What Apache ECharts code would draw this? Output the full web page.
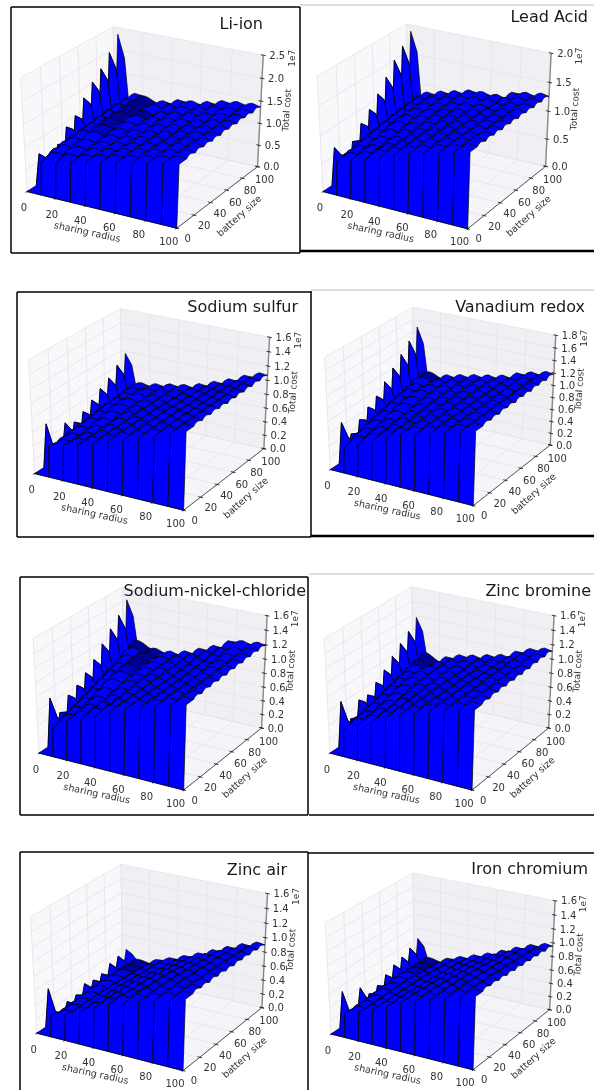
<!DOCTYPE html>
<html><head><meta charset="utf-8">
<style>html,body{margin:0;padding:0;background:#fff}#c{width:594px;height:1090px;filter:blur(0.55px)}</style>
<script src="https://cdn.jsdelivr.net/npm/echarts@6/dist/echarts.min.js"></script>
</head><body><div id="c"></div>
<script>
// ---------- axis values ----------
const xTicks = [0, 20, 40, 60, 80, 100];
const yTicks = [0, 20, 40, 60, 80, 100];
const xNodes = [0, 10, 20, 30, 40, 50, 60, 70, 80, 90, 100];
const yNodes = [0, 10, 20, 30, 40, 50, 60, 70, 80, 90, 100];
const liIonZTicks = [0, 0.5, 1.0, 1.5, 2.0, 2.5];
const leadAcidZTicks = [0, 0.5, 1.0, 1.5, 2.0];
const vanadiumZTicks = [0, 0.2, 0.4, 0.6, 0.8, 1.0, 1.2, 1.4, 1.6, 1.8];
const commonZTicks = [0, 0.2, 0.4, 0.6, 0.8, 1.0, 1.2, 1.4, 1.6];

// ---------- series values (1e7), rows y=10..100, columns x=10..100 ----------
const liIonWall = [.72,.76,.85,.95,1.02,1.10,1.17,1.24,1.31,1.38];
const liIonTip = [.75,.60,.70,.97,1.10,1.38,1.62,1.80,2.05,2.35];
const liIonMid = [.70,.58,.74,.95,1.06,1.28,1.45,1.58,1.72,1.85];
const liIonGrid = [
[.80,.85,.88,.96,1.03,1.10,1.17,1.24,1.31,1.38],
[.82,.88,.90,.96,1.03,1.10,1.17,1.24,1.31,1.38],
[.85,.92,.92,.97,1.03,1.10,1.17,1.25,1.31,1.38],
[.86,.98,.95,.98,1.04,1.10,1.17,1.25,1.31,1.37],
[.88,1.02,.98,1.00,1.05,1.10,1.17,1.25,1.30,1.37],
[.90,1.05,1.00,1.02,1.07,1.12,1.18,1.25,1.31,1.38],
[.92,1.05,1.02,1.02,1.09,1.14,1.18,1.25,1.32,1.37],
[.94,1.08,1.02,1.00,1.10,1.14,1.20,1.28,1.32,1.38],
[.95,1.06,1.00,1.04,1.12,1.12,1.22,1.30,1.33,1.36],
[.96,1.07,.97,1.02,1.13,1.14,1.22,1.31,1.34,1.37]];

const leadAcidWall = [.58,.66,.74,.84,.94,1.02,1.09,1.16,1.23,1.30];
const leadAcidTip = [.70,.48,.60,.82,.97,1.15,1.35,1.56,1.72,1.89];
const leadAcidMid = [.60,.52,.64,.80,.92,1.07,1.20,1.34,1.44,1.55];
const leadAcidGrid = [
[.60,.68,.76,.85,.95,1.03,1.10,1.17,1.24,1.30],
[.62,.70,.76,.86,.95,1.03,1.10,1.17,1.24,1.29],
[.65,.74,.80,.86,.95,1.03,1.10,1.17,1.23,1.29],
[.68,.78,.82,.88,.96,1.03,1.10,1.16,1.23,1.28],
[.70,.82,.85,.90,.97,1.04,1.10,1.17,1.23,1.28],
[.72,.84,.87,.92,.99,1.04,1.10,1.17,1.22,1.27],
[.74,.85,.89,.94,1.00,1.05,1.10,1.17,1.22,1.27],
[.76,.86,.90,.95,1.02,1.05,1.08,1.18,1.23,1.26],
[.77,.86,.91,.97,1.04,1.06,1.07,1.19,1.22,1.26],
[.78,.85,.92,.98,1.05,1.05,1.06,1.19,1.21,1.26]];

const sodiumSulfurWall = [.45,.50,.56,.63,.70,.77,.84,.92,1.00,1.08];
const sodiumSulfurTip = [.65,.27,.50,.43,.50,.59,.68,.76,.87,.97];
const sodiumSulfurMid = [.34,.30,.42,.43,.48,.55,.62,.68,.76,.82];
const sodiumSulfurGrid = [
[.42,.48,.55,.62,.70,.77,.84,.92,1.00,1.08],
[.43,.48,.55,.62,.70,.77,.84,.92,1.00,1.08],
[.45,.50,.56,.62,.70,.77,.84,.92,1.00,1.08],
[.46,.54,.57,.63,.70,.77,.84,.92,1.00,1.08],
[.48,.57,.58,.64,.70,.77,.84,.91,.99,1.07],
[.50,.60,.60,.64,.70,.76,.83,.91,.99,1.07],
[.51,.60,.60,.64,.69,.76,.83,.91,.99,1.07],
[.52,.59,.60,.64,.68,.75,.83,.90,1.00,1.07],
[.54,.58,.60,.64,.68,.74,.82,.90,1.00,1.07],
[.55,.56,.60,.64,.67,.74,.82,.90,1.00,1.07]];

const vanadiumWall = [.41,.52,.62,.72,.84,.90,.96,1.03,1.10,1.17];
const vanadiumTip = [.70,.42,.56,.68,.77,.92,1.06,1.20,1.34,1.49];
const vanadiumMid = [.48,.45,.58,.66,.74,.84,.96,1.06,1.15,1.24];
const vanadiumGrid = [
[.46,.55,.64,.74,.84,.90,.97,1.04,1.10,1.17],
[.50,.58,.65,.74,.84,.90,.97,1.04,1.10,1.17],
[.54,.62,.68,.75,.84,.90,.97,1.04,1.10,1.17],
[.58,.68,.70,.77,.85,.91,.97,1.04,1.10,1.18],
[.62,.72,.73,.79,.86,.91,.97,1.04,1.11,1.17],
[.66,.74,.75,.80,.86,.92,.97,1.05,1.10,1.18],
[.69,.76,.77,.81,.87,.92,.97,1.05,1.11,1.17],
[.72,.75,.78,.82,.88,.93,.97,1.06,1.11,1.18],
[.76,.74,.78,.83,.88,.93,.97,1.06,1.12,1.17],
[.78,.72,.78,.83,.88,.92,.97,1.07,1.12,1.18]];

const sodiumNickelWall = [.40,.54,.63,.72,.82,.90,.97,1.04,1.10,1.16];
const sodiumNickelTip = [.72,.43,.60,.66,.76,.87,1.02,1.16,1.28,1.43];
const sodiumNickelMid = [.48,.46,.58,.64,.72,.82,.94,1.04,1.12,1.22];
const sodiumNickelGrid = [
[.44,.56,.64,.73,.82,.90,.97,1.04,1.10,1.16],
[.48,.58,.65,.73,.82,.90,.97,1.04,1.10,1.16],
[.52,.62,.67,.74,.82,.90,.97,1.04,1.11,1.17],
[.56,.68,.70,.76,.83,.90,.97,1.04,1.11,1.17],
[.61,.73,.73,.78,.84,.90,.97,1.05,1.11,1.17],
[.66,.77,.75,.79,.84,.90,.98,1.06,1.12,1.18],
[.71,.80,.77,.80,.85,.90,.99,1.08,1.13,1.18],
[.77,.82,.78,.80,.85,.92,1.00,1.10,1.14,1.19],
[.83,.82,.78,.80,.86,.94,1.02,1.12,1.15,1.19],
[.88,.80,.78,.80,.86,.95,1.03,1.15,1.16,1.19]];

const zincBromineWall = [.37,.48,.58,.68,.78,.85,.92,.98,1.04,1.09];
const zincBromineTip = [.67,.34,.53,.52,.62,.72,.84,.95,1.05,1.18];
const zincBromineMid = [.42,.38,.52,.52,.60,.68,.77,.86,.93,1.00];
const zincBromineGrid = [
[.40,.50,.59,.69,.78,.85,.92,.98,1.04,1.09],
[.43,.52,.60,.69,.78,.85,.92,.98,1.04,1.09],
[.46,.55,.62,.70,.78,.85,.92,.98,1.04,1.10],
[.49,.59,.64,.71,.79,.85,.92,.98,1.04,1.10],
[.53,.63,.67,.73,.79,.85,.92,.98,1.05,1.10],
[.56,.66,.69,.74,.79,.85,.91,.99,1.05,1.10],
[.60,.67,.70,.75,.79,.85,.90,.99,1.05,1.10],
[.64,.66,.70,.75,.79,.85,.90,1.00,1.06,1.11],
[.67,.63,.70,.76,.79,.85,.89,1.00,1.06,1.11],
[.70,.60,.70,.76,.79,.85,.89,1.00,1.07,1.11]];

const zincAirWall = [.30,.36,.44,.55,.65,.71,.78,.84,.90,.96];
const zincAirTip = [.56,.14,.21,.22,.30,.27,.28,.35,.38,.40];
const zincAirMid = [.26,.16,.20,.24,.27,.27,.28,.31,.33,.35];
const zincAirGrid = [
[.26,.32,.42,.54,.64,.71,.77,.84,.90,.96],
[.26,.32,.42,.54,.63,.71,.77,.84,.90,.96],
[.27,.32,.42,.53,.62,.70,.77,.84,.90,.95],
[.28,.32,.42,.52,.61,.69,.76,.83,.89,.95],
[.29,.32,.41,.50,.60,.68,.75,.82,.89,.94],
[.29,.31,.40,.48,.58,.66,.73,.81,.88,.93],
[.29,.30,.39,.46,.56,.64,.72,.80,.87,.93],
[.29,.29,.38,.44,.54,.62,.71,.79,.86,.92],
[.29,.28,.37,.42,.52,.60,.69,.78,.85,.91],
[.29,.27,.36,.42,.50,.58,.67,.76,.84,.90]];

const ironChromiumWall = [.36,.42,.50,.60,.70,.77,.83,.90,.97,1.03];
const ironChromiumTip = [.56,.20,.45,.28,.32,.40,.47,.51,.57,.64];
const ironChromiumMid = [.30,.22,.32,.29,.33,.38,.43,.46,.50,.54];
const ironChromiumGrid = [
[.34,.40,.48,.58,.69,.76,.83,.90,.97,1.03],
[.34,.40,.48,.58,.68,.76,.83,.90,.97,1.03],
[.35,.40,.48,.57,.67,.75,.82,.90,.96,1.02],
[.36,.41,.48,.56,.66,.74,.82,.89,.96,1.01],
[.37,.41,.48,.55,.65,.73,.81,.88,.95,1.00],
[.38,.41,.48,.54,.63,.71,.80,.87,.94,.99],
[.38,.40,.47,.53,.61,.70,.78,.86,.93,.98],
[.38,.38,.46,.52,.60,.68,.76,.85,.92,.97],
[.38,.37,.45,.51,.58,.66,.75,.84,.91,.96],
[.38,.35,.44,.50,.57,.64,.73,.82,.90,.95]];

// ---------- layout and style ----------
const panelLayout = [
 {title:'Li-ion', tx:144, ty:124, sx:173, sy:130, te:263, tc:25, grid:liIonGrid, wall:liIonWall, tip:liIonTip, mid:liIonMid, zt:liIonZTicks, zm:2.5},
 {title:'Lead Acid', tx:436, ty:123, sx:167, sy:132, te:588, tc:18, grid:leadAcidGrid, wall:leadAcidWall, tip:leadAcidTip, mid:leadAcidMid, zt:leadAcidZTicks, zm:2.0},
 {title:'Sodium sulfur', tx:151, ty:406, sx:172, sy:130, te:298, tc:308, grid:sodiumSulfurGrid, wall:sodiumSulfurWall, tip:sodiumSulfurTip, mid:sodiumSulfurMid, zt:commonZTicks, zm:1.6},
 {title:'Vanadium redox', tx:442, ty:403, sx:165, sy:128, te:585, tc:308, grid:vanadiumGrid, wall:vanadiumWall, tip:vanadiumTip, mid:vanadiumMid, zt:vanadiumZTicks, zm:1.8},
 {title:'Sodium-nickel-chloride', tx:152, ty:685, sx:167, sy:131, te:306, tc:592, grid:sodiumNickelGrid, wall:sodiumNickelWall, tip:sodiumNickelTip, mid:sodiumNickelMid, zt:commonZTicks, zm:1.6},
 {title:'Zinc bromine', tx:441, ty:685, sx:164, sy:131, te:591, tc:592, grid:zincBromineGrid, wall:zincBromineWall, tip:zincBromineTip, mid:zincBromineMid, zt:commonZTicks, zm:1.6},
 {title:'Zinc air', tx:151, ty:964, sx:169, sy:133, te:287, tc:871, grid:zincAirGrid, wall:zincAirWall, tip:zincAirTip, mid:zincAirMid, zt:commonZTicks, zm:1.6},
 {title:'Iron chromium', tx:442, ty:968, sx:164, sy:127, te:588, tc:870, grid:ironChromiumGrid, wall:ironChromiumWall, tip:ironChromiumTip, mid:ironChromiumMid, zt:commonZTicks, zm:1.6}
];
const frameLines = [
 [11,7,300,7,'#000',1.5],[11,7,11,253,'#000',1.5],[11,253,300,253,'#000',1.5],[300,7,300,253,'#000',1.5],
 [300,5,594,5,'#bbb',1],[300,251,594,251,'#000',2.5],
 [17,292,311,292,'#000',1.5],[17,292,17,537,'#000',1.5],[17,537,311,537,'#000',1.5],
 [311,291,311,537,'#000',1.5],[311,290,594,290,'#bbb',1],[311,536,594,536,'#000',2.5],
 [20,577,308,577,'#000',1.5],[20,577,20,815,'#000',1.5],[20,815,308,815,'#000',1.5],[308,577,308,815,'#000',1.5],
 [309,574,594,574,'#bbb',1],[309,815,594,815,'#000',1.5],
 [20,852,308,852,'#000',1.5],[20,852,20,1090,'#000',1.5],[308,852,308,1090,'#000',1.5],
 [308,853,594,853,'#000',1.5]
];
const spikeX = [3, 7.5];
const wallY = 1.5;
const rippleT = [0.2, 0.45, 0.8];
const rippleS = [0.35, 0.7, 0.9];
const rippleLift = [0.03, 0.042, 0.014];

// ---------- projection (elev 30, azim -60, perspective) ----------
const U=[.8660254,.5,0], V=[-.25,.4330127,.8660254], W=[.4330127,-.75,.5], D=10;
function project(x,y,z,zm){
  const c=[x/100-.5,y/100-.5,z/zm-.5];
  const dot=a=>a[0]*c[0]+a[1]*c[1]+a[2]*c[2];
  const d=D-dot(W);
  return {p:[D*dot(U)/d, D*dot(V)/d], d};
}
function nodeZ(p,c,r){ return (c===0||r===0)?0:p.grid[r-1][c-1]; }
function rippleAlong(p,a,b,fn){
  const out=[];
  rippleT.forEach((t,i)=>{
    const z=a+(b-a)*rippleS[i]+rippleLift[i]*p.zm*0.5*Math.min(1,(a+b)/p.zm*1.2);
    const q=fn(t); out.push([q[0],q[1],z]);
  });
  return out;
}
function edgeX(p,c,r){
  const x0=xNodes[c],x1=xNodes[c+1],y=yNodes[r];
  if(r===0) return [[x0,y,0],[x1,y,0]];
  if(c===0) return [[0,y,0],[spikeX[0],y,p.tip[r-1]],[spikeX[1],y,p.mid[r-1]],[x1,y,nodeZ(p,1,r)]];
  const a=nodeZ(p,c,r),b=nodeZ(p,c+1,r);
  return [[x0,y,a],...rippleAlong(p,a,b,t=>[x0+(x1-x0)*t,y]),[x1,y,b]];
}
function edgeY(p,c,r){
  const y0=yNodes[r],y1=yNodes[r+1],x=xNodes[c];
  if(c===0) return [[x,y0,0],[x,y1,0]];
  if(r===0) return [[x,0,0],[x,wallY,p.wall[c-1]],[x,y1,nodeZ(p,c,1)]];
  const a=nodeZ(p,c,r),b=nodeZ(p,c,r+1);
  return [[x,y0,a],...rippleAlong(p,a,b,t=>[x,y0+(y1-y0)*t]),[x,y1,b]];
}
function shade(poly,zm){
  let n=[0,0,0];const k=10/zm*1.6;
  const P=poly.map(q=>[q[0]/100,q[1]/100,q[2]*k]);
  for(let i=0;i<P.length;i++){const a=P[i],b=P[(i+1)%P.length];
    n[0]+=(a[1]-b[1])*(a[2]+b[2]);n[1]+=(a[2]-b[2])*(a[0]+b[0]);n[2]+=(a[0]-b[0])*(a[1]+b[1]);}
  const L=Math.hypot(...n)||1;
  const d=(-n[0]-n[1]+n[2])/L/1.7320508;
  const b=Math.max(.6,Math.min(1,.68+.7*d));
  return 'rgb(0,0,'+Math.round(b*255)+')';
}
function buildItems(p){
  const zm=p.zm, P=(x,y,z)=>project(x,y,z,zm).p, items=[];
  const poly=(pts,fill,stroke,w)=>items.push({k:'poly',pts,fill,stroke,w});
  const line=(a,b,stroke,w)=>items.push({k:'line',a,b,stroke,w});
  const text=(at,dx,dy,t,fs,rot,col)=>items.push({k:'text',at,dx,dy,t,fs,rot:rot||0,col:col||'#333'});
  poly([P(0,0,0),P(0,100,0),P(0,100,zm),P(0,0,zm)],'#f8f7fa',null,0);
  poly([P(0,100,0),P(100,100,0),P(100,100,zm),P(0,100,zm)],'#f0f0f4',null,0);
  poly([P(0,0,0),P(100,0,0),P(100,100,0),P(0,100,0)],'#f5f5f9',null,0);
  const gc='#e3e3e8';
  xTicks.forEach(x=>{line(P(x,100,0),P(x,100,zm),gc,.8);line(P(x,0,0),P(x,100,0),gc,.8);});
  yTicks.forEach(y=>{line(P(0,y,0),P(0,y,zm),gc,.8);line(P(0,y,0),P(100,y,0),gc,.8);});
  p.zt.forEach(z=>{line(P(0,0,z),P(0,100,z),gc,.8);line(P(0,100,z),P(100,100,z),gc,.8);});
  const ac='#555';
  line(P(0,0,0),P(100,0,0),ac,1);line(P(100,0,0),P(100,100,0),ac,1);line(P(100,100,0),P(100,100,zm),'#888',1.4);
  xTicks.forEach(x=>{line(P(x,-1.5,0),P(x,1.5,0),'#222',.9);text(P(x,0,0),-3-.05*x,17-.03*x,String(x),10);});
  yTicks.forEach(y=>{line(P(98.5,y,0),P(101.5,y,0),'#222',.9);text(P(100,y,0),11-.04*y,11+.03*y,String(y),10);});
  p.zt.forEach(z=>{line(P(98.5,100,z),P(101.5,100,z),'#222',.9);text(P(100,100,z),14,1,z.toFixed(1),10);});
  const cells=[];
  for(let r=0;r<yNodes.length-1;r++)for(let c=0;c<xNodes.length-1;c++){
    const ring=[...edgeX(p,c,r),
      ...edgeY(p,c+1,r).slice(1),
      ...edgeX(p,c,r+1).reverse().slice(1),
      ...edgeY(p,c,r).reverse().slice(1,-1)];
    const zc=[nodeZ(p,c,r),nodeZ(p,c+1,r),nodeZ(p,c,r+1),nodeZ(p,c+1,r+1)].reduce((a,b)=>a+b)/4;
    const depth=project((xNodes[c]+xNodes[c+1])/2,(yNodes[r]+yNodes[r+1])/2,zc,zm).d;
    cells.push({ring,depth});
  }
  cells.sort((a,b)=>b.depth-a.depth);
  cells.forEach(o=>poly(o.ring.map(q=>P(q[0],q[1],q[2])),shade(o.ring,zm),'#000',.7));
  text(P(50,0,0),-13,23,'sharing radius',9.5,-12*Math.PI/180);
  text(P(100,50,0),21,20,'battery size',9.5,42*Math.PI/180);
  text(P(100,100,zm/2),27,-2,'Total cost',9,86*Math.PI/180);
  text(P(100,100,zm),29,3,'1e7',9,Math.PI/2);
  return items;
}
function renderer(items){
  return function(params,api){
    const it=items[params.dataIndex];
    if(it.k==='poly') return {type:'polygon',shape:{points:it.pts.map(q=>api.coord(q))},
      style:{fill:it.fill,stroke:it.stroke||'none',lineWidth:it.w,lineJoin:'round'}};
    if(it.k==='line'){const a=api.coord(it.a),b=api.coord(it.b);
      return {type:'line',shape:{x1:a[0],y1:a[1],x2:b[0],y2:b[1]},style:{stroke:it.stroke,lineWidth:it.w}};}
    const a=api.coord(it.at);
    return {type:'text',x:a[0]+it.dx,y:a[1]+it.dy,rotation:it.rot,
      style:{text:it.t,fontFamily:'DejaVu Sans',fontSize:it.fs,fill:it.col,align:'center',verticalAlign:'middle'}};
  };
}
const xHalf=.8,yHalf=.9;
const option={animation:false,backgroundColor:'#fff',grid:[],xAxis:[],yAxis:[],series:[],
 title:panelLayout.map(p=>({text:p.title,right:594-p.te,top:p.tc-10,padding:0,
   textStyle:{fontFamily:'DejaVu Sans',fontSize:16,fontWeight:'normal',color:'#1a1a1a',lineHeight:20}})),
 graphic:frameLines.map(l=>({type:'line',silent:true,z:50,shape:{x1:l[0],y1:l[1],x2:l[2],y2:l[3]},style:{stroke:l[4],lineWidth:l[5]}}))};
panelLayout.forEach((p,i)=>{
  option.grid.push({left:p.tx-xHalf*p.sx,top:p.ty-yHalf*p.sy,width:2*xHalf*p.sx,height:2*yHalf*p.sy,show:false});
  option.xAxis.push({type:'value',gridIndex:i,min:-xHalf,max:xHalf,show:false});
  option.yAxis.push({type:'value',gridIndex:i,min:-yHalf,max:yHalf,show:false});
  const items=buildItems(p);
  option.series.push({type:'custom',coordinateSystem:'cartesian2d',xAxisIndex:i,yAxisIndex:i,silent:true,clip:false,
    encode:{x:0,y:1},renderItem:renderer(items),data:items.map((_,k)=>[0,0,k])});
});
echarts.init(document.getElementById('c'),null,{renderer:'canvas'}).setOption(option);
</script></body></html>
